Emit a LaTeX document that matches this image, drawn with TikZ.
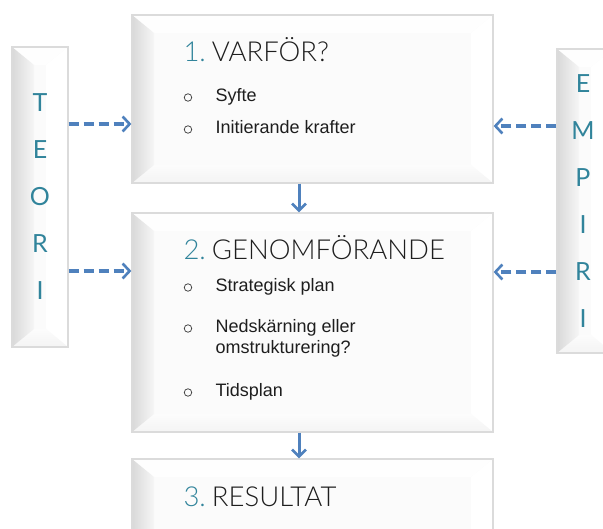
\documentclass[tikz,border=0pt]{standalone}
\usepackage{fontspec}
\setmainfont{Lato}
\newfontfamily\bodyfont{Liberation Sans}
\IfFontExistsTF{Lato Light}
  {\newfontfamily\headfont{Lato Light}}
  {\newfontfamily\headfont{Lato}}
\usetikzlibrary{arrows.meta,calc}
\definecolor{headteal}{HTML}{31849B}
\definecolor{linkblue}{HTML}{4F81BD}
\definecolor{inkgray}{HTML}{1E1E1E}
\tikzset{
  bevel/.style={draw=gray!28, line width=1.2pt, fill=gray!3, path picture={
    \path (path picture bounding box.south west) coordinate (bsw)
          (path picture bounding box.north east) coordinate (bne);
    \path (bsw |- bne) coordinate (bnw) (bne |- bsw) coordinate (bse);
    \path ([xshift=22pt,yshift=18pt]bsw) coordinate (isw)
          ([xshift=-22pt,yshift=-18pt]bne) coordinate (ine);
    \path (isw |- ine) coordinate (inw) (ine |- isw) coordinate (ise);
    \fill[gray!1] (bnw) -- (bne) -- (ine) -- (inw) -- cycle;
    \fill[white] (bne) -- (bse) -- (ise) -- (ine) -- cycle;
    \shade[top color=gray!2, bottom color=gray!9] (bse) -- (bsw) -- (isw) -- (ise) -- cycle;
    \shade[left color=gray!30, right color=gray!7] (bsw) -- (bnw) -- (inw) -- (isw) -- cycle;
  }},
  stage/.style={bevel, inner sep=0pt},
  headline/.style={anchor=base west, inkgray, font=\headfont\fontsize{27.5}{32}\selectfont},
  bodyline/.style={anchor=base west, inkgray, font=\bodyfont\fontsize{18}{21}\selectfont},
  bulletmark/.style={circle, draw=inkgray!85, line width=0.75pt, minimum size=7.5pt, inner sep=0pt},
  sideletter/.style={anchor=base, headteal, font=\fontsize{25}{30}\selectfont},
  dashlink/.style={linkblue, line width=3.5pt, dash pattern=on 10pt off 5pt,
    -{Straight Barb[length=7pt,width=15pt,line width=2.6pt]}},
  flowlink/.style={linkblue, line width=3pt,
    -{Straight Barb[length=7pt,width=14pt,line width=2.6pt]}},
}
\begin{document}
\begin{tikzpicture}[x=1pt,y=-1pt]
\useasboundingbox (0,0) rectangle (603,529);
\clip (0,0) rectangle (603,529);

% side panels
\node[stage, minimum width=56pt, minimum height=300pt] (teori) at (40,197) {};
\node[stage, minimum width=56pt, minimum height=304pt] (empiri) at (585,201) {};

% stage boxes
\node[stage, minimum width=361pt, minimum height=168pt] (box1) at (312.5,99) {};
\node[stage, minimum width=361pt, minimum height=219pt] (box2) at (312.5,322.5) {};
\node[stage, minimum width=361pt, minimum height=150pt] (box3) at (312.5,534) {};

% vertical letters
\foreach \ch [count=\i] in {T,E,O,R,I}
  \node[sideletter] (t\i) at (40,{112+47*(\i-1)}) {\ch};
\foreach \ch [count=\i] in {E,M,P,I,R,I}
  \node[sideletter] (e\i) at (583,{93+47*(\i-1)}) {\ch};

% stage 1
\node[headline] (h1) at (180,62) {\textcolor{headteal}{1.}\hspace{6pt}VARFÖR?};
\node[bulletmark] (b11) at (188,97.5) {};
\node[bodyline] (s11) at (212,102) {Syfte};
\node[bulletmark] (b12) at (188,129.5) {};
\node[bodyline] (s12) at (212,134) {Initierande krafter};

% stage 2
\node[headline] (h2) at (180,260) {\textcolor{headteal}{2.}\hspace{6pt}GENOMFÖRANDE};
\node[bulletmark] (b21) at (188,287.5) {};
\node[bodyline] (s21) at (212,292) {Strategisk plan};
\node[bulletmark] (b22) at (188,328.5) {};
\node[bodyline] (s22) at (212,333) {Nedskärning eller};
\node[bodyline] (s23) at (212,354) {omstrukturering?};
\node[bulletmark] (b23) at (188,392.5) {};
\node[bodyline] (s24) at (212,397) {Tidsplan};

% stage 3
\node[headline] (h3) at (180,507) {\textcolor{headteal}{3.}\hspace{6pt}RESULTAT};

% connectors
\draw[dashlink] (teori.east |- 0,124) -- (box1.west |- 0,124);
\draw[dashlink] (teori.east |- 0,271) -- (box2.west |- 0,271);
\draw[dashlink] (empiri.west |- 0,126) -- (box1.east |- 0,126);
\draw[dashlink] (empiri.west |- 0,272) -- (box2.east |- 0,272);
\draw[flowlink] (box1.south -| 299,0) -- (box2.north -| 299,0);
\draw[flowlink] (box2.south -| 299,0) -- (box3.north -| 299,0);
\end{tikzpicture}
\end{document}
